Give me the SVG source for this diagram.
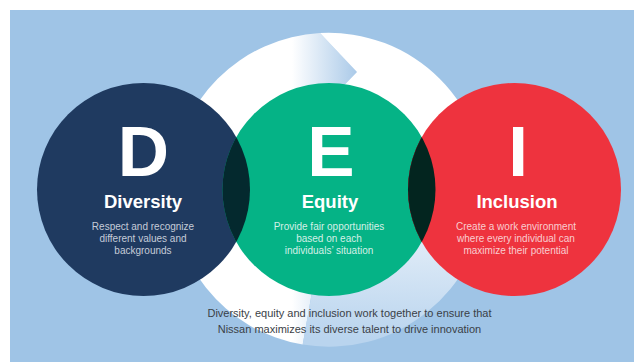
<svg xmlns="http://www.w3.org/2000/svg" width="634" height="362" viewBox="0 0 634 362">
  <defs>
    <style>
      .big { font-family: "Liberation Sans", Arial, sans-serif; font-weight: bold; font-size: 71px; fill: #ffffff; text-anchor: middle; }
      .title { font-family: "Liberation Sans", Arial, sans-serif; font-weight: bold; font-size: 18.5px; fill: #ffffff; text-anchor: middle; }
      .desc { font-family: "Liberation Sans", Arial, sans-serif; font-size: 10px; text-anchor: middle; }
      .foot { font-family: "Liberation Sans", Arial, sans-serif; font-size: 11px; fill: #3a3f47; text-anchor: middle; }
    </style>
    <linearGradient id="gB" gradientUnits="userSpaceOnUse" x1="292" y1="0" x2="358" y2="0">
      <stop offset="0" stop-color="#ffffff"/>
      <stop offset="1" stop-color="#a9c9e8"/>
    </linearGradient>
    <linearGradient id="gA" gradientUnits="userSpaceOnUse" x1="390" y1="60" x2="380" y2="340">
      <stop offset="0" stop-color="#ffffff"/>
      <stop offset="0.35" stop-color="#ffffff"/>
      <stop offset="1" stop-color="#b9d4ee"/>
    </linearGradient>
    <clipPath id="clipD"><circle cx="143.5" cy="189.5" r="106.5"/></clipPath>
    <clipPath id="clipI"><circle cx="514.5" cy="189.5" r="106.5"/></clipPath>
    <clipPath id="clipE"><circle cx="329" cy="189.5" r="106.5"/></clipPath>
  </defs>

  <rect x="10" y="10" width="624" height="352" fill="#9fc4e6"/>

  <g id="cycle">
    <path d="M 302.7 344.6 A 157 157 0 0 1 320 33 L 357 72 L 342.7 86.8 A 104 104 0 0 0 311.9 292.4 Z" fill="url(#gB)"/>
    <path d="M 320 33 A 157 157 0 1 1 302.7 344.6 L 311.9 292.4 A 104 104 0 1 0 342.7 86.8 L 357 72 Z" fill="url(#gA)"/>
  </g>

  <g id="diversity">
    <circle cx="143.5" cy="189.5" r="106.5" fill="#1f3a60"/>
    <text class="big" x="143.5" y="176">D</text>
    <text class="title" x="143" y="208">Diversity</text>
    <text class="desc" fill="#c5ccd8" x="143" y="229.5">Respect and recognize</text>
    <text class="desc" fill="#c5ccd8" x="143" y="241.5">different values and</text>
    <text class="desc" fill="#c5ccd8" x="143" y="253.5">backgrounds</text>
  </g>

  <g id="equity">
    <circle cx="329" cy="189.5" r="106.5" fill="#05b386"/>
    <circle cx="329" cy="189.5" r="106.5" fill="#04292e" clip-path="url(#clipD)"/>
    <circle cx="329" cy="189.5" r="106.5" fill="#03251f" clip-path="url(#clipI)"/>
    <text class="big" x="331" y="176">E</text>
    <text class="title" x="330" y="208">Equity</text>
    <text class="desc" fill="#d4f0e6" x="329" y="229.5">Provide fair opportunities</text>
    <text class="desc" fill="#d4f0e6" x="329" y="241.5">based on each</text>
    <text class="desc" fill="#d4f0e6" x="329" y="253.5">individuals’ situation</text>
  </g>

  <g id="inclusion">
    <circle cx="514.5" cy="189.5" r="106.5" fill="#ee333e"/>
    <circle cx="514.5" cy="189.5" r="106.5" fill="#03251f" clip-path="url(#clipE)"/>
    <text class="big" x="518" y="176">I</text>
    <text class="title" x="517" y="208">Inclusion</text>
    <text class="desc" fill="#f9cdd0" x="516" y="229.5">Create a work environment</text>
    <text class="desc" fill="#f9cdd0" x="516" y="241.5">where every individual can</text>
    <text class="desc" fill="#f9cdd0" x="516" y="253.5">maximize their potential</text>
  </g>

  <g id="caption">
    <text class="foot" x="349.5" y="317">Diversity, equity and inclusion work together to ensure that</text>
    <text class="foot" x="349.5" y="332.5">Nissan maximizes its diverse talent to drive innovation</text>
  </g>
</svg>
